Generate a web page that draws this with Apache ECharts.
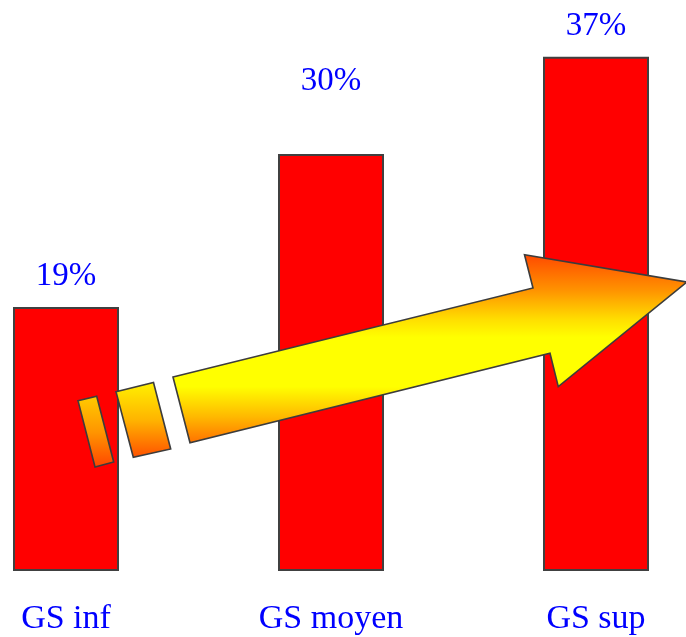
<!DOCTYPE html>
<html>
<head>
<meta charset="utf-8">
<script src="https://cdn.jsdelivr.net/npm/echarts@6/dist/echarts.min.js"></script>
<style>
html,body{margin:0;padding:0;background:#fff;}
#c{width:686px;height:637px;}
</style>
</head>
<body>
<div id="c"></div>
<script>
// Data
var categories = ['GS inf', 'GS moyen', 'GS sup'];
var values = [19, 30, 37];
var valueLabels = ['19%', '30%', '37%'];

// Styling (label distances per bar)
var labelDistances = [14, 56, 14];

var chart = echarts.init(document.getElementById('c'));
var serif = '"Liberation Serif", "DejaVu Serif", serif';

var arrowGrad = {
  type: 'linear', x: 0, y: 0, x2: 0, y2: 1,
  colorStops: [
    {offset: 0, color: '#FF4800'},
    {offset: 0.19, color: '#FF9200'},
    {offset: 0.35, color: '#FFE000'},
    {offset: 0.44, color: '#FFFF00'},
    {offset: 0.70, color: '#FFFF00'},
    {offset: 0.86, color: '#FFB800'},
    {offset: 1, color: '#FF7000'}
  ]
};
var seg2Grad = {
  type: 'linear', x: 0, y: 0, x2: 0, y2: 1,
  colorStops: [
    {offset: 0, color: '#FFF200'},
    {offset: 0.5, color: '#FFB400'},
    {offset: 1, color: '#FF5000'}
  ]
};
var seg1Grad = {
  type: 'linear', x: 0, y: 0, x2: 0, y2: 1,
  colorStops: [
    {offset: 0, color: '#FFCC00'},
    {offset: 0.5, color: '#FF9600'},
    {offset: 1, color: '#FF4400'}
  ]
};
var outline = {stroke: '#3c3c3c', lineWidth: 1.6};

chart.setOption({
  backgroundColor: '#ffffff',
  animation: false,
  grid: {left: -66.5, right: -42.5, top: 15, bottom: 66, containLabel: false, outerBoundsMode: 'none'},
  xAxis: {
    type: 'category',
    data: categories,
    axisLine: {show: false},
    axisTick: {show: false},
    axisLabel: {
      color: '#0000FF',
      fontFamily: serif,
      fontSize: 34,
      margin: 31
    }
  },
  yAxis: {
    type: 'value',
    min: 0,
    max: 40,
    show: false,
    splitLine: {show: false}
  },
  series: [{
    type: 'bar',
    barWidth: 106,
    data: values.map(function (v, i) {
      return {
        value: v,
        label: {distance: labelDistances[i]}
      };
    }),
    itemStyle: {color: '#FF0000', borderColor: '#404040', borderWidth: 2},
    label: {
      show: true,
      position: 'top',
      color: '#0000FF',
      fontFamily: serif,
      fontSize: 33,
      formatter: function (p) { return valueLabels[p.dataIndex]; }
    },
    z: 2
  }],
  graphic: [
    {
      type: 'polygon', z: 100,
      shape: {points: [[173, 377], [533, 288], [524.5, 254.7], [687, 282], [558.3, 386.7], [550, 353.3], [190, 442.7]]},
      style: Object.assign({fill: arrowGrad}, outline)
    },
    {
      type: 'polygon', z: 100,
      shape: {points: [[116, 391.7], [153.5, 382.5], [170.7, 449], [133.3, 457.3]]},
      style: Object.assign({fill: seg2Grad}, outline)
    },
    {
      type: 'polygon', z: 100,
      shape: {points: [[78, 400.7], [96.7, 396.3], [113.7, 462], [95, 467]]},
      style: Object.assign({fill: seg1Grad}, outline)
    }
  ]
});
</script>
</body>
</html>
